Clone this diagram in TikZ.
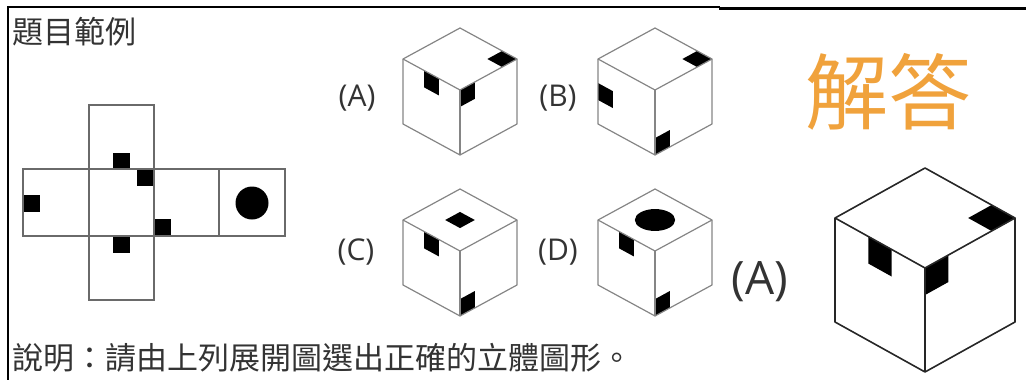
\documentclass[tikz,border=0pt]{standalone}
\usepackage{fontspec}
\setmainfont{Open Sans}
\newfontfamily\cjk{Noto Sans CJK TC}
\newcommand\cubeset[5]{\def\cubex{#1}\def\cubey{#2}\def\cubew{#3}\def\cuber{#4}\def\cubeh{#5}}
\newcommand\mk[4]{\fill[markfill] (#1,#2) -- (#3,#2) -- (#3,#4) -- (#1,#4) -- cycle;}
\newcommand\cubeoutline[1]{%
  \draw[#1] (\cubex-\cubew,\cubey-\cuber) -- (\cubex,\cubey-2*\cuber) -- (\cubex+\cubew,\cubey-\cuber)
    -- (\cubex+\cubew,\cubey-\cuber+\cubeh) -- (\cubex,\cubey+\cubeh) -- (\cubex-\cubew,\cubey-\cuber+\cubeh) -- cycle;
  \draw[#1] (\cubex-\cubew,\cubey-\cuber) -- (\cubex,\cubey) -- (\cubex+\cubew,\cubey-\cuber);
  \draw[#1] (\cubex,\cubey) -- (\cubex,\cubey+\cubeh);}
\definecolor{txtgray}{HTML}{333333}
\definecolor{netgray}{HTML}{6A6A6A}
\definecolor{cubegray}{HTML}{858585}
\definecolor{ansorange}{HTML}{F0A23C}
\tikzset{
  leftface/.style={shift={(\cubex-\cubew,\cubey-\cuber)}, x={(\cubew pt,-\cuber pt)}, y={(0pt,-\cubeh pt)}},
  rightface/.style={shift={(\cubex,\cubey)}, x={(\cubew pt,\cuber pt)}, y={(0pt,-\cubeh pt)}},
  topface/.style={shift={(\cubex-\cubew,\cubey-\cuber)}, x={(\cubew pt,\cuber pt)}, y={(\cubew pt,-\cuber pt)}},
  markfill/.style={fill=black},
  smallcube/.style={draw=cubegray, line width=1.2pt, line join=round},
  bigcube/.style={draw=black!85, line width=1.6pt, line join=round},
  netline/.style={draw=netgray, line width=1.2pt},
  cjktext/.style={inner sep=0pt, text=txtgray, font=\cjk\fontsize{31}{31}\selectfont},
  optlabel/.style={inner sep=0pt, text=txtgray, font=\fontsize{30}{30}\selectfont},
}
\begin{document}
\begin{tikzpicture}[x=1pt, y=-1pt]
\useasboundingbox (0,0) rectangle (1027,380);
% frame lines
\draw[line width=2.5pt] (8,6) -- (8,380);
\draw[line width=1.5pt] (7,7) -- (720,7);
\draw[line width=3.5pt] (719,8.5) -- (1026,8.5);
% texts
\node[cjktext, anchor=base west] (title) at (12,43) {題目範例};
\node[cjktext, anchor=base west] (note) at (12,369) {說明：請由上列展開圖選出正確的立體圖形。};
\node[optlabel] (la) at (357,98) {(A)};
\node[optlabel] (lb) at (558,98) {(B)};
\node[optlabel] (lc) at (356,252) {(C)};
\node[optlabel] (ld) at (558,252) {(D)};
\node[inner sep=0pt, text=txtgray, font=\fontsize{46}{46}\selectfont] (ans) at (760,282) {(A)};
\node[inner sep=0pt, text=ansorange, font=\cjk\fontsize{83}{83}\selectfont] (jd) at (888,92) {解答};
% net
\fill (23,195) rectangle (40,212);
\fill (113,153) rectangle (130,169);
\fill (137,169) rectangle (154,186);
\fill (154,219) rectangle (171,236);
\fill (113,236) rectangle (130,253);
\fill (252,203) circle [radius=16.5];
\draw[netline] (23,169) rectangle (285,236);
\draw[netline] (89,105) rectangle (154,300);
\draw[netline] (219,169) -- (219,236);
% cube A
\cubeset{460}{90}{57}{31}{65}
\begin{scope}[topface]\mk{0.74}{0.74}{1}{1}\end{scope}
\begin{scope}[leftface]\mk{0.37}{0}{0.63}{0.26}\end{scope}
\begin{scope}[rightface]\mk{0}{0}{0.26}{0.26}\end{scope}
\cubeoutline{smallcube}
% cube B
\cubeset{655}{90}{57}{31}{65}
\begin{scope}[topface]\mk{0.74}{0.74}{1}{1}\end{scope}
\begin{scope}[leftface]\mk{0}{0.37}{0.26}{0.63}\end{scope}
\begin{scope}[rightface]\mk{0}{0.74}{0.26}{1}\end{scope}
\cubeoutline{smallcube}
% cube C
\cubeset{460}{251}{57}{31}{65}
\begin{scope}[topface]\mk{0.37}{0.37}{0.63}{0.63}\end{scope}
\begin{scope}[leftface]\mk{0.37}{0}{0.63}{0.26}\end{scope}
\begin{scope}[rightface]\mk{0}{0.74}{0.26}{1}\end{scope}
\cubeoutline{smallcube}
% cube D
\cubeset{655}{251}{57}{31}{65}
\begin{scope}[topface]\fill[markfill] (0.5,0.5) circle [radius=0.25];\end{scope}
\begin{scope}[leftface]\mk{0.37}{0}{0.63}{0.26}\end{scope}
\begin{scope}[rightface]\mk{0}{0.74}{0.26}{1}\end{scope}
\cubeoutline{smallcube}
% big answer cube
\cubeset{925}{268}{90}{50}{104}
\begin{scope}[topface]\mk{0.74}{0.74}{1}{1}\end{scope}
\begin{scope}[leftface]\mk{0.37}{0}{0.63}{0.26}\end{scope}
\begin{scope}[rightface]\mk{0}{0}{0.26}{0.26}\end{scope}
\cubeoutline{bigcube}
\end{tikzpicture}
\end{document}
